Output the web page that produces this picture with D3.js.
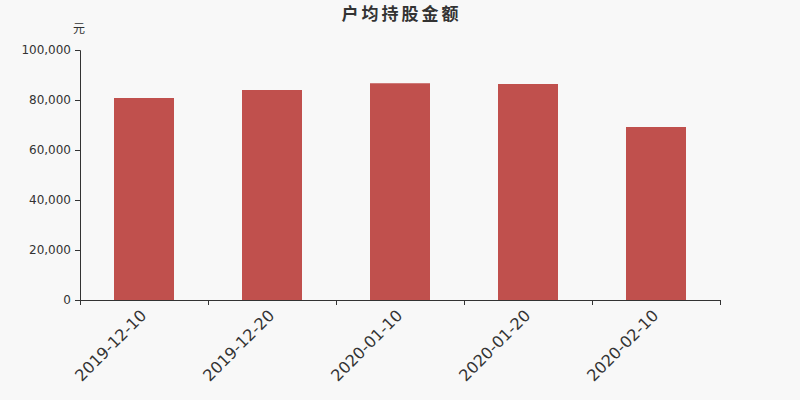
<!DOCTYPE html>
<html>
<head>
<meta charset="utf-8">
<script src="https://cdn.jsdelivr.net/npm/d3@7"></script>
<style>
  body { margin: 0; background: #f8f8f8; }
  svg { display: block; font-family: "DejaVu Sans", sans-serif; }
</style>
</head>
<body>
<div id="wrapper"></div>
<script>
const dates = ["2019-12-10", "2019-12-20", "2020-01-10", "2020-01-20", "2020-02-10"];
const amounts = [80800, 84000, 86700, 86400, 69200];
const yTicks = [0, 20000, 40000, 60000, 80000, 100000];

const dimensions = {
  width: 800,
  height: 400,
  margin: { top: 50, right: 80, bottom: 100, left: 80 },
};
dimensions.boundedWidth = dimensions.width - dimensions.margin.left - dimensions.margin.right;
dimensions.boundedHeight = dimensions.height - dimensions.margin.top - dimensions.margin.bottom;

const svg = d3.select("#wrapper")
  .append("svg")
  .attr("width", dimensions.width)
  .attr("height", dimensions.height);

svg.append("rect")
  .attr("width", dimensions.width)
  .attr("height", dimensions.height)
  .attr("fill", "#f8f8f8");

const bounds = svg.append("g")
  .attr("transform", `translate(${dimensions.margin.left},${dimensions.margin.top})`);

const xScale = d3.scaleBand()
  .domain(dates)
  .range([0, dimensions.boundedWidth])
  .paddingInner(0.53125)
  .paddingOuter(0.265625);

// boundaries between categories for the tick marks
const edgeScale = d3.scaleLinear()
  .domain([0, dates.length])
  .range([0, dimensions.boundedWidth]);

const yScale = d3.scaleLinear()
  .domain([0, 100000])
  .range([dimensions.boundedHeight, 0]);

// bars
bounds.append("g")
  .selectAll("rect")
  .data(dates)
  .join("rect")
  .attr("x", (d) => xScale(d))
  .attr("y", (d, i) => yScale(amounts[i]))
  .attr("width", xScale.bandwidth())
  .attr("height", (d, i) => dimensions.boundedHeight - yScale(amounts[i]))
  .attr("fill", "#c0504d");

// y axis
const yAxis = bounds.append("g")
  .call(d3.axisLeft(yScale).tickValues(yTicks).tickSize(5).tickPadding(4).tickFormat(d3.format(",")));
yAxis.select(".domain").attr("stroke", "#333");
yAxis.selectAll(".tick line").attr("stroke", "#333");
yAxis.selectAll("text").attr("fill", "#333").attr("font-size", 12).attr("font-family", "DejaVu Sans, sans-serif");

// x axis
const xAxis = bounds.append("g")
  .attr("transform", `translate(0,${dimensions.boundedHeight})`)
  .call(d3.axisBottom(edgeScale).ticks(dates.length).tickSize(5).tickSizeOuter(0).tickFormat(""));
xAxis.select(".domain").attr("stroke", "#333");
xAxis.selectAll(".tick line").attr("stroke", "#333");

bounds.append("g")
  .selectAll("text")
  .data(dates)
  .join("text")
  .attr("transform", (d) => `translate(${xScale(d) + xScale.bandwidth() / 2 - 5},${dimensions.boundedHeight + 8}) rotate(-45)`)
  .attr("text-anchor", "end")
  .attr("dy", "0.75em")
  .attr("font-size", 16)
  .attr("fill", "#333")
  .text((d) => d);

// title and unit
svg.append("text")
  .attr("x", dimensions.width / 2 + 1.5)
  .attr("y", 20)
  .attr("text-anchor", "middle")
  .attr("font-size", 17)
  .attr("letter-spacing", 3)
  .attr("font-weight", "bold")
  .attr("fill", "#333")
  .attr("font-family", "Noto Sans CJK SC, sans-serif")
  .text("户均持股金额");

svg.append("text")
  .attr("x", 79)
  .attr("y", 33)
  .attr("text-anchor", "middle")
  .attr("font-size", 12)
  .attr("fill", "#333")
  .attr("font-family", "Noto Sans CJK SC, sans-serif")
  .text("元");
</script>
</body>
</html>
